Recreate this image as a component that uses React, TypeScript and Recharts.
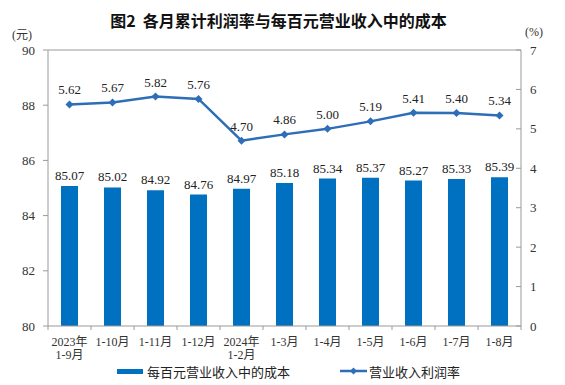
import React from 'react';
import { ComposedChart, Bar, Line, XAxis, YAxis, LabelList, ReferenceLine } from 'recharts';

const categories = [
  '2023年\n1-9月', '1-10月', '1-11月', '1-12月', '2024年\n1-2月',
  '1-3月', '1-4月', '1-5月', '1-6月', '1-7月', '1-8月',
];
const costPerHundred = [85.07, 85.02, 84.92, 84.76, 84.97, 85.18, 85.34, 85.37, 85.27, 85.33, 85.39];
const profitRate = [5.62, 5.67, 5.82, 5.76, 4.7, 4.86, 5.0, 5.19, 5.41, 5.4, 5.34];
const leftTicks = [80, 82, 84, 86, 88, 90];
const rightTicks = [0, 1, 2, 3, 4, 5, 6, 7];

const data = categories.map((name, i) => ({ name, cost: costPerHundred[i], rate: profitRate[i] }));

const SERIF = 'Liberation Serif, Times New Roman, Noto Sans CJK SC, serif';
const CJK = '"Noto Sans CJK SC", "Noto Sans", sans-serif';
const AXIS = '#9a9a9a';
const BAR = '#0070C0';
const LINE = '#2E6DB8';
const STEP = 473 / 11;

const LeftTick = ({ x, y, payload }: any) => (
  <g>
    <line x1={x - 5} y1={y} x2={x} y2={y} stroke={AXIS} />
    <text x={x - 13} y={y} dy={4.5} textAnchor="end" fontSize={13} fontFamily={SERIF} fill="#333">
      {payload.value}
    </text>
  </g>
);

const RightTick = ({ x, y, payload }: any) => (
  <g>
    <line x1={x - 5} y1={y} x2={x} y2={y} stroke={AXIS} />
    <text x={x + 9} y={y} dy={4.5} textAnchor="start" fontSize={13} fontFamily={SERIF} fill="#333">
      {payload.value}
    </text>
  </g>
);

const CatTick = ({ x, y, payload, index }: any) => {
  const lines = String(payload.value).split('\n');
  return (
    <g>
      <line x1={x - STEP / 2} y1={y} x2={x - STEP / 2} y2={y + 4} stroke={AXIS} />
      {index === categories.length - 1 && (
        <line x1={x + STEP / 2} y1={y} x2={x + STEP / 2} y2={y + 4} stroke={AXIS} />
      )}
      {lines.map((t, i) => (
        <text key={i} x={x} y={y + 20 + i * 13} textAnchor="middle" fontSize={12} fontFamily={SERIF} fill="#333">
          {t}
        </text>
      ))}
    </g>
  );
};

const Diamond = ({ cx, cy }: any) => {
  if (cx == null || cy == null) return null;
  const r = 4;
  return <polygon points={`${cx},${cy - r} ${cx + r},${cy} ${cx},${cy + r} ${cx - r},${cy}`} fill={LINE} />;
};

export default function App() {
  return (
    <div style={{ position: 'absolute', left: 0, top: 0, width: 565, height: 385, background: '#fff' }}>
      <div style={{ position: 'absolute', top: 9, left: 0, width: 557, textAlign: 'center', fontFamily: CJK, fontSize: 16, fontWeight: 700, color: '#111', lineHeight: '22px' }}>
        图2&nbsp;&nbsp;各月累计利润率与每百元营业收入中的成本
      </div>
      <div style={{ position: 'absolute', top: 25, left: 12, fontFamily: SERIF, fontSize: 12, color: '#333' }}>(元)</div>
      <div style={{ position: 'absolute', top: 25, left: 525, fontFamily: SERIF, fontSize: 12, color: '#333' }}>(%)</div>
      <ComposedChart width={565} height={385} data={data} margin={{ top: 50, right: 0, bottom: 0, left: 0 }}>
        <XAxis dataKey="name" height={59} tickSize={0} tickMargin={0} interval={0} stroke={AXIS} tick={<CatTick />} />
        <YAxis yAxisId="left" domain={[80, 90]} ticks={leftTicks} width={48} tickSize={0} tickMargin={0} stroke={AXIS} tickLine={false} tick={<LeftTick />} />
        <YAxis yAxisId="right" orientation="right" domain={[0, 7]} ticks={rightTicks} width={44} tickSize={0} tickMargin={0} stroke={AXIS} tickLine={false} tick={<RightTick />} />
        <ReferenceLine yAxisId="left" y={90} stroke={AXIS} />
        <Bar yAxisId="left" dataKey="cost" fill={BAR} barSize={17} isAnimationActive={false}>
          <LabelList dataKey="cost" position="top" offset={6} fontSize={13} fontFamily={SERIF} fill="#222" formatter={(v: any) => Number(v).toFixed(2)} />
        </Bar>
        <Line yAxisId="right" dataKey="rate" stroke={LINE} strokeWidth={2.5} dot={<Diamond />} activeDot={false} isAnimationActive={false}>
          <LabelList dataKey="rate" position="top" offset={10} fontSize={13} fontFamily={SERIF} fill="#222" formatter={(v: any) => Number(v).toFixed(2)} />
        </Line>
      </ComposedChart>
      <div style={{ position: 'absolute', top: 369, left: 117, width: 26, height: 5, background: BAR }} />
      <div style={{ position: 'absolute', top: 365, left: 147, fontFamily: CJK, fontSize: 13, color: '#222', lineHeight: '13px' }}>每百元营业收入中的成本</div>
      <svg style={{ position: 'absolute', top: 366, left: 340 }} width={27} height={10}>
        <line x1={0} y1={5} x2={27} y2={5} stroke={LINE} strokeWidth={2.5} />
        <polygon points="13.5,1.5 17,5 13.5,8.5 10,5" fill={LINE} />
      </svg>
      <div style={{ position: 'absolute', top: 365, left: 369, fontFamily: CJK, fontSize: 13, color: '#222', lineHeight: '13px' }}>营业收入利润率</div>
    </div>
  );
}
